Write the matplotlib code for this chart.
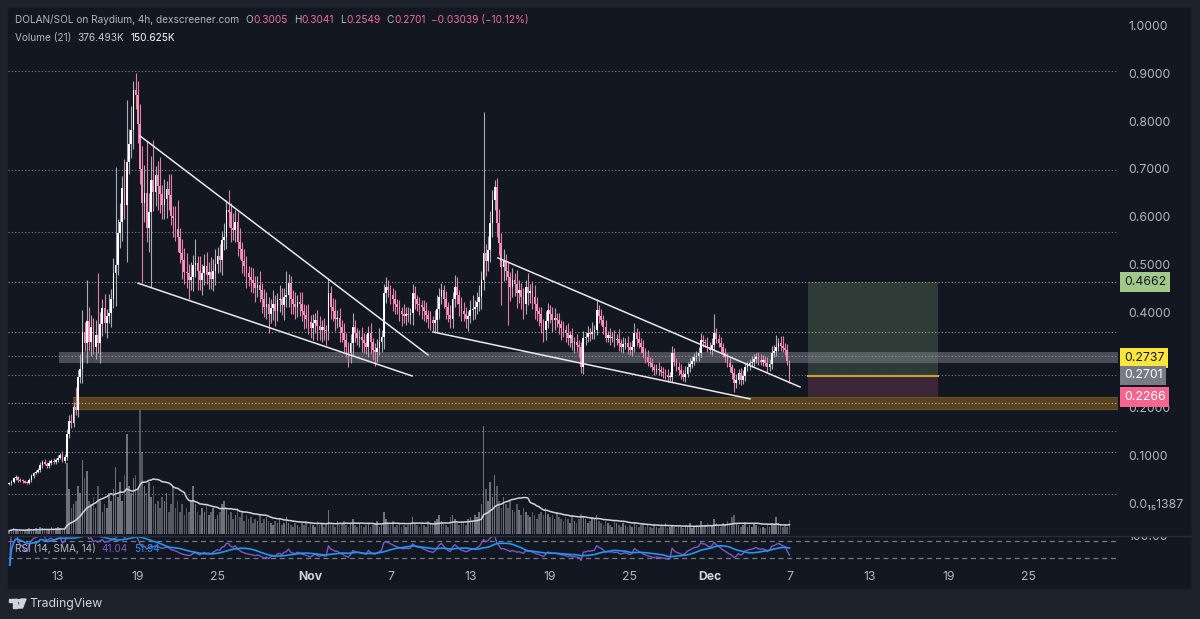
import numpy as np
import pandas as pd
import matplotlib
matplotlib.use('Agg')
import matplotlib.pyplot as plt
from matplotlib.patches import Rectangle, Polygon, Circle

plt.rcParams['font.family'] = ['Inter', 'DejaVu Sans']

# ---------------- data (4h candles, first candle Oct 9 08:00) ----------------
first_open = 0.044
close = [
    0.045, 0.048, 0.056, 0.058, 0.053, 0.051, 0.050, 0.047, 0.046, 0.052,
    0.060, 0.066, 0.069, 0.073, 0.083, 0.091, 0.086, 0.081, 0.088, 0.093,
    0.089, 0.095, 0.099, 0.104, 0.093, 0.101, 0.148, 0.176, 0.172, 0.206,
    0.199, 0.268, 0.285, 0.362, 0.338, 0.385, 0.342, 0.372, 0.331, 0.356,
    0.338, 0.378, 0.412, 0.380, 0.395, 0.402, 0.432, 0.486, 0.502, 0.568,
    0.592, 0.664, 0.628, 0.718, 0.756, 0.785, 0.868, 0.858, 0.798, 0.702,
    0.632, 0.652, 0.580, 0.612, 0.680, 0.655, 0.690, 0.668, 0.650, 0.628,
    0.641, 0.662, 0.648, 0.605, 0.600, 0.578, 0.560, 0.527, 0.512, 0.488,
    0.485, 0.470, 0.478, 0.502, 0.506, 0.490, 0.470, 0.485, 0.500, 0.482,
    0.488, 0.472, 0.490, 0.505, 0.520, 0.512, 0.554, 0.560, 0.618, 0.612,
    0.580, 0.575, 0.592, 0.550, 0.535, 0.510, 0.500, 0.485, 0.478, 0.470,
    0.464, 0.455, 0.460, 0.450, 0.432, 0.414, 0.420, 0.400, 0.412, 0.420,
    0.405, 0.428, 0.430, 0.418, 0.435, 0.440, 0.464, 0.430, 0.420, 0.414,
    0.425, 0.420, 0.405, 0.398, 0.390, 0.382, 0.370, 0.380, 0.387, 0.375,
    0.366, 0.372, 0.366, 0.365, 0.443, 0.414, 0.405, 0.390, 0.392, 0.372,
    0.360, 0.345, 0.330, 0.318, 0.338, 0.372, 0.360, 0.350, 0.352, 0.345,
    0.338, 0.330, 0.360, 0.340, 0.324, 0.320, 0.328, 0.340, 0.352, 0.443,
    0.456, 0.450, 0.440, 0.430, 0.420, 0.414, 0.405, 0.400, 0.396, 0.400,
    0.398, 0.402, 0.443, 0.430, 0.420, 0.418, 0.414, 0.405, 0.398, 0.390,
    0.386, 0.380, 0.387, 0.410, 0.435, 0.450, 0.432, 0.414, 0.398, 0.390,
    0.430, 0.456, 0.440, 0.420, 0.405, 0.400, 0.390, 0.396, 0.408, 0.410,
    0.414, 0.425, 0.435, 0.470, 0.527, 0.510, 0.533, 0.590, 0.638, 0.665,
    0.590, 0.548, 0.498, 0.510, 0.490, 0.477, 0.456, 0.470, 0.462, 0.443,
    0.450, 0.435, 0.420, 0.456, 0.443, 0.448, 0.435, 0.420, 0.405, 0.400,
    0.380, 0.366, 0.385, 0.408, 0.400, 0.387, 0.392, 0.387, 0.378, 0.370,
    0.366, 0.360, 0.350, 0.355, 0.339, 0.342, 0.335, 0.330, 0.289, 0.350,
    0.352, 0.360, 0.358, 0.362, 0.366, 0.408, 0.395, 0.387, 0.372, 0.350,
    0.355, 0.350, 0.352, 0.345, 0.348, 0.338, 0.330, 0.336, 0.339, 0.330,
    0.324, 0.330, 0.360, 0.348, 0.339, 0.330, 0.318, 0.310, 0.300, 0.297,
    0.288, 0.282, 0.285, 0.282, 0.278, 0.276, 0.272, 0.268, 0.268, 0.318,
    0.300, 0.289, 0.282, 0.275, 0.268, 0.275, 0.289, 0.295, 0.302, 0.310,
    0.312, 0.318, 0.345, 0.340, 0.339, 0.330, 0.324, 0.335, 0.360, 0.348,
    0.339, 0.330, 0.318, 0.310, 0.297, 0.288, 0.276, 0.255, 0.262, 0.276,
    0.262, 0.270, 0.289, 0.292, 0.297, 0.300, 0.305, 0.310, 0.303, 0.300,
    0.303, 0.298, 0.289, 0.295, 0.318, 0.322, 0.330, 0.339, 0.333, 0.328,
    0.324, 0.3005, 0.2701,
]
wick_up = [
    .003, .004, .003, .005, .002, .003, .004, .002, .003, .004,
    .004, .003, .005, .004, .006, .004, .005, .003, .006, .004,
    .005, .004, .006, .004, .008, .006, .010, .012, .015, .010,
    .040, .015, .030, .045, .020, .085, .030, .025, .020, .030,
    .130, .025, .020, .030, .015, .040, .020, .030, .205, .030,
    .040, .025, .060, .130, .030, .050, .020, .036, .030, .040,
    .050, .060, .110, .040, .050, .083, .020, .030, .060, .020,
    .040, .015, .030, .045, .020, .025, .060, .020, .030, .025,
    .040, .020, .030, .020, .050, .015, .030, .020, .025, .030,
    .020, .030, .025, .030, .020, .025, .020, .030, .020, .040,
    .020, .030, .025, .020, .030, .015, .025, .020, .015, .020,
    .025, .015, .020, .030, .015, .020, .025, .015, .020, .030,
    .020, .015, .030, .025, .020, .050, .020, .015, .020, .025,
    .015, .020, .025, .015, .020, .030, .015, .020, .015, .020,
    .020, .015, .020, .010, .030, .015, .020, .025, .015, .020,
    .015, .020, .015, .010, .020, .030, .015, .010, .015, .020,
    .015, .020, .015, .020, .010, .015, .020, .030, .015, .020,
    .020, .015, .010, .015, .020, .010, .015, .010, .020, .015,
    .015, .010, .020, .015, .010, .015, .010, .015, .020, .010,
    .015, .010, .020, .030, .020, .015, .010, .015, .010, .020,
    .015, .025, .020, .010, .015, .020, .015, .010, .020, .030,
    .015, .020, .025, .020, .295, .020, .030, .025, .020, .015,
    .020, .030, .020, .025, .015, .020, .010, .025, .015, .030,
    .020, .015, .020, .015, .030, .015, .020, .025, .015, .010,
    .015, .010, .020, .015, .010, .015, .020, .010, .015, .010,
    .015, .010, .020, .010, .015, .010, .015, .010, .010, .015,
    .010, .015, .010, .020, .010, .022, .010, .015, .010, .015,
    .010, .015, .010, .015, .010, .020, .010, .015, .010, .015,
    .010, .015, .020, .010, .015, .010, .015, .010, .015, .010,
    .010, .008, .010, .015, .008, .010, .008, .012, .010, .015,
    .010, .008, .010, .012, .008, .015, .010, .012, .010, .008,
    .010, .012, .015, .010, .008, .012, .010, .015, .040, .010,
    .010, .012, .008, .010, .008, .010, .008, .010, .012, .008,
    .010, .012, .008, .010, .008, .012, .010, .008, .010, .012,
    .010, .008, .012, .010, .015, .012, .025, .010, .015, .020,
    .010, .012, .0036,
]
wick_dn = [
    .002, .003, .002, .003, .004, .002, .003, .002, .003, .002,
    .003, .004, .002, .003, .004, .005, .003, .004, .003, .004,
    .004, .003, .005, .003, .004, .005, .006, .008, .010, .008,
    .010, .015, .012, .030, .015, .040, .020, .030, .015, .025,
    .020, .040, .025, .020, .030, .015, .030, .020, .070, .020,
    .030, .040, .030, .120, .025, .030, .040, .030, .040, .030,
    .168, .040, .030, .050, .156, .040, .030, .050, .040, .030,
    .030, .040, .030, .020, .040, .025, .030, .020, .040, .025,
    .030, .040, .020, .030, .025, .040, .020, .030, .025, .020,
    .030, .020, .025, .030, .020, .025, .030, .020, .025, .030,
    .030, .020, .025, .030, .020, .025, .020, .030, .020, .025,
    .020, .030, .020, .025, .030, .020, .025, .040, .020, .025,
    .030, .020, .025, .020, .030, .020, .025, .030, .020, .025,
    .020, .025, .020, .030, .020, .025, .020, .025, .020, .030,
    .020, .025, .020, .030, .020, .025, .020, .025, .020, .030,
    .020, .025, .020, .030, .020, .025, .020, .015, .020, .025,
    .020, .015, .020, .025, .020, .030, .020, .015, .020, .025,
    .020, .015, .020, .025, .020, .015, .020, .025, .015, .020,
    .015, .020, .025, .020, .015, .020, .025, .020, .015, .020,
    .020, .015, .020, .025, .020, .015, .020, .025, .015, .020,
    .020, .015, .020, .025, .020, .015, .020, .025, .015, .020,
    .020, .015, .020, .025, .020, .030, .020, .025, .030, .020,
    .030, .025, .080, .030, .020, .100, .030, .020, .025, .030,
    .020, .025, .030, .020, .025, .020, .025, .030, .020, .025,
    .020, .025, .020, .015, .020, .025, .020, .015, .020, .025,
    .015, .020, .015, .020, .015, .020, .015, .020, .013, .015,
    .015, .010, .015, .010, .015, .010, .015, .010, .015, .010,
    .010, .015, .010, .015, .010, .015, .010, .012, .010, .015,
    .010, .012, .010, .015, .010, .012, .010, .012, .010, .008,
    .008, .010, .008, .010, .008, .010, .008, .010, .008, .010,
    .010, .008, .010, .012, .008, .010, .008, .010, .008, .010,
    .008, .010, .008, .010, .008, .010, .008, .010, .012, .010,
    .008, .010, .008, .010, .008, .010, .012, .018, .010, .008,
    .010, .008, .010, .008, .010, .008, .010, .008, .010, .008,
    .010, .008, .010, .008, .010, .008, .010, .008, .010, .008,
    .010, .008, .0152,
]
volume_k = [
    90, 120, 150, 100, 80, 110, 90, 70, 130, 160,
    140, 110, 170, 90, 200, 150, 120, 100, 130, 180,
    110, 150, 200, 170, 120, 140, 1900, 1200, 700, 800,
    900, 1300, 1100, 2000, 1500, 1700, 900, 800, 1000, 700,
    1300, 900, 600, 800, 700, 1100, 900, 1200, 1800, 1000,
    1400, 900, 1600, 2700, 1300, 1100, 1500, 1600, 1200, 3500,
    2200, 1300, 1100, 1400, 1000, 1300, 800, 900, 700, 1000,
    900, 1100, 600, 800, 1300, 700, 900, 600, 800, 500,
    700, 600, 900, 1300, 800, 600, 500, 700, 600, 800,
    500, 600, 700, 400, 500, 600, 800, 900, 700, 500,
    600, 400, 500, 700, 450, 600, 350, 500, 400, 450,
    300, 400, 350, 500, 300, 400, 450, 350, 300, 250,
    350, 300, 400, 250, 300, 450, 300, 250, 200, 300,
    250, 200, 300, 250, 350, 200, 300, 250, 200, 350,
    250, 300, 200, 250, 650, 300, 250, 200, 350, 250,
    300, 350, 250, 200, 300, 400, 250, 200, 300, 250,
    200, 250, 300, 200, 250, 300, 350, 200, 250, 600,
    400, 300, 250, 350, 200, 250, 300, 200, 250, 200,
    250, 300, 450, 300, 250, 200, 300, 250, 200, 350,
    300, 250, 350, 400, 500, 350, 300, 250, 200, 450,
    500, 400, 300, 250, 350, 300, 250, 400, 450, 350,
    500, 450, 600, 800, 2900, 1200, 900, 1400, 1000, 1600,
    1300, 900, 700, 1000, 800, 700, 900, 650, 600, 800,
    650, 500, 700, 600, 500, 450, 600, 500, 400, 550,
    600, 500, 700, 550, 450, 500, 400, 600, 450, 400,
    350, 450, 400, 300, 500, 350, 300, 400, 550, 450,
    400, 300, 350, 450, 400, 500, 350, 300, 250, 350,
    300, 250, 200, 350, 300, 250, 200, 300, 250, 200,
    250, 200, 300, 250, 200, 250, 300, 200, 250, 200,
    150, 250, 200, 150, 250, 200, 300, 150, 200, 250,
    200, 150, 250, 200, 150, 250, 200, 300, 150, 200,
    250, 200, 350, 200, 250, 300, 200, 250, 400, 300,
    250, 200, 300, 250, 350, 300, 450, 500, 300, 250,
    200, 250, 300, 200, 250, 200, 300, 250, 200, 150,
    200, 150, 250, 200, 300, 250, 450, 300, 250, 200,
    250, 200, 376.493,
]

price_ticks = [1.0, 0.9, 0.8, 0.7, 0.6, 0.5, 0.4, 0.2, 0.1, 0.0]
price_tick_labels = ['1.0000', '0.9000', '0.8000', '0.7000', '0.6000', '0.5000',
                     '0.4000', '0.2000', '0.1000', '0.0\u2081\u20851387']
date_ticks = [0, 6, 12, 19, 25, 31, 37, 43, 49, 55, 61, 67, 73]   # days after Oct 13
date_labels = ['13', '19', '25', 'Nov', '7', '13', '19', '25', 'Dec', '7', '13', '19', '25']
level_lines = [0.908, 0.701, 0.571, 0.466, 0.362, 0.311, 0.272, 0.213, 0.155, 0.111, 0.023]
level_colors = ['#8b8f9a', '#8b8f9a', '#8b8f9a', '#9fbf7f', '#9fbf7f', '#9a9eaa', '#8b8f9a',
                '#d8c9a4', '#8b8f9a', '#9fbf7f', '#8b8f9a']
grey_zone = (0.297, 0.320)
gold_zone = (0.2002, 0.2253)
entry, target, stop = 0.2701, 0.4662, 0.2266
position_days = (56.4, 66.2)
trendlines = [((6.17, 0.772), (27.82, 0.314)),
              ((6.02, 0.464), (26.62, 0.270)),
              ((33.08, 0.517), (55.79, 0.247)),
              ((28.20, 0.362), (52.03, 0.222))]

# ---------------- derived series ----------------
n = len(close)
t = -3.6667 + np.arange(n) / 6.0
c = np.array(close)
o = np.concatenate([[first_open], c[:-1]])
hi = np.maximum(o, c) + np.array(wick_up)
lo = np.minimum(o, c) - np.array(wick_dn)
up = c >= o
vol = np.array(volume_k)
vol_ma = pd.Series(vol).rolling(21, min_periods=1).mean().values
delta = pd.Series(c).diff().fillna(0)
gain = delta.clip(lower=0).ewm(alpha=1/14, adjust=False).mean()
loss = (-delta.clip(upper=0)).ewm(alpha=1/14, adjust=False).mean()
rsi = (100 - 100 / (1 + gain / loss.replace(0, 1e-9))).values
rsi_sma = pd.Series(rsi).rolling(14, min_periods=1).mean().values

# ---------------- figure ----------------
W, H = 1200, 619
fig = plt.figure(figsize=(12, 6.19), dpi=100)
fig.patch.set_facecolor('#1e222d')
BG = '#131722'
fig.add_artist(Rectangle((8 / W, 1 - 588 / H), (1190 - 8) / W, (588 - 8) / H,
                         transform=fig.transFigure, color=BG, zorder=0))


def rect(x0, y0, x1, y1):
    return [x0 / W, 1 - y1 / H, (x1 - x0) / W, (y1 - y0) / H]


def px_to_t(x):
    return (x - 58) / 13.3


XL = (px_to_t(8), px_to_t(1118))

ax_vol = fig.add_axes(rect(8, 8, 1118, 535))
ax = fig.add_axes(rect(8, 8, 1118, 535))
ax_rsi = fig.add_axes(rect(8, 536, 1118, 566))
for a in (ax_vol, ax, ax_rsi):
    a.set_facecolor('none')
    a.set_xlim(*XL)
    for s in a.spines.values():
        s.set_visible(False)
    a.set_xticks([])
    a.set_yticks([])

ax.set_ylim((505 - 535) / 478, (505 - 8) / 478)
ax_vol.set_ylim(-27, 526 * 26.9)
ax_rsi.set_ylim(30 - 8 / 0.425, 70 + 5 / 0.425)

# volume
vcol = np.where(up, '#6f727d', '#555862')
ax_vol.bar(t, vol, width=0.12, color=vcol, linewidth=0, zorder=1)
ax_vol.plot(t, vol_ma, color='#d1d4dc', lw=1.1, zorder=2)

# level lines and zones
ax.fill_between([px_to_t(59), XL[1]], grey_zone[0], grey_zone[1], color='#787b86',
                alpha=0.55, lw=0, zorder=2)
ax.fill_between([px_to_t(73), XL[1]], gold_zone[0], gold_zone[1], color='#584321',
                lw=0, zorder=2)
ax.plot([px_to_t(73), XL[1]], [gold_zone[1], gold_zone[1]], color='#6a5227', lw=0.8, zorder=2)
ax.plot([px_to_t(73), XL[1]], [gold_zone[0], gold_zone[0]], color='#6a5227', lw=0.8, zorder=2)
for lv, lc in zip(level_lines, level_colors):
    ax.axhline(lv, color=lc, lw=0.8, ls=(0, (1, 2)), alpha=0.85, zorder=2.5)

# position tool
ax.fill_between(position_days, entry, target, color='#2e3b37', lw=0, zorder=1.5)
ax.fill_between(position_days, stop, entry, color='#3d2538', lw=0, zorder=1.5)
ax.plot(position_days, [entry, entry], color='#c9a330', lw=1.5, zorder=3)

# candles
col = np.where(up, '#ffffff', '#f391b9')
wcol = np.where(up, '#a9acb5', '#e07fa8')
ax.vlines(t, lo, hi, colors=wcol, lw=0.8, zorder=4)
body_h = np.maximum(np.abs(c - o), 0.0015)
ax.bar(t, body_h, bottom=np.minimum(o, c), width=0.13, color=col, linewidth=0, zorder=5)

# trendlines
for (x0, y0), (x1, y1) in trendlines:
    ax.plot([x0, x1], [y0, y1], color='#e8e9ec', lw=1.1, zorder=6)

# RSI
ax_rsi.axhline(70, color='#787b86', lw=0.9, ls=(0, (4, 3)))
ax_rsi.axhline(30, color='#787b86', lw=0.9, ls=(0, (4, 3)))
ax_rsi.plot(t, rsi, color='#7e57c2', lw=1.0, zorder=3)
ax_rsi.plot(t, rsi_sma, color='#2196f3', lw=1.2, zorder=4)

# pane separator
fig.add_artist(plt.Line2D([8 / W, 1190 / W], [1 - 535.5 / H] * 2, color='#2a2e39', lw=1))

# ---------------- texts ----------------
TXT = '#b2b5be'
renderer = fig.canvas.get_renderer()


def ftxt(x, y, s, **kw):
    kw.setdefault('va', 'center')
    kw.setdefault('ha', 'left')
    return fig.text(x / W, 1 - y / H, s, **kw)


def chain(x0, y, pieces, size):
    x = x0
    for s, colr, gap in pieces:
        x += gap
        tx = ftxt(x, y, s, color=colr, fontsize=size)
        bb = tx.get_window_extent(renderer)
        x = bb.x1


def p2y(p):
    return 505 - 478 * p


for p, lab in zip(price_ticks, price_tick_labels):
    ftxt(1128, p2y(p), lab, color=TXT, fontsize=8.8)


def pill(y, s, fc, tc):
    ftxt(1124, y, s, color=tc, fontsize=8.8,
         bbox=dict(boxstyle='square,pad=0.3', fc=fc, ec='none'), zorder=10)


pill(282, '0.4662', '#a3c98a', '#131722')
pill(358, '0.2737', '#fbe73b', '#131722')
pill(375.5, '0.2701', '#787b86', '#ffffff')
pill(397, '0.2266', '#f2668f', '#ffffff')

ax_lab = fig.add_axes(rect(1118, 536, 1190, 566))
ax_lab.set_axis_off()
ax_lab.set_xlim(0, 72)
ax_lab.set_ylim(30, 0)
ax_lab.text(10, 1.5, '100.00', color=TXT, fontsize=8.8, va='center', clip_on=True)

for d, lab in zip(date_ticks, date_labels):
    bold = lab in ('Nov', 'Dec')
    ftxt(58 + 13.3 * d, 577, lab, color='#d1d4dc' if bold else TXT, fontsize=8.8,
         ha='center', fontweight='bold' if bold else 'normal')

# header: fit the title to its width in the reference
title = 'DOLAN/SOL on Raydium, 4h, dexscreener.com'
probe = ftxt(15, 20, title, color=TXT, fontsize=8)
wpx = probe.get_window_extent(renderer).width
hsize = 8 * 225 / wpx
probe.remove()
PINK = '#f06f9a'
chain(15, 20, [(title, TXT, 0), ('O', TXT, 6), ('0.3005', PINK, 0.5),
               ('H', TXT, 6), ('0.3041', PINK, 0.5), ('L', TXT, 6), ('0.2549', PINK, 0.5),
               ('C', TXT, 6), ('0.2701', PINK, 0.5),
               ('\u22120.03039 (\u221210.12%)', PINK, 5)], hsize)
chain(15, 38, [('Volume (21)', TXT, 0), ('376.493K', '#c8cad1', 6),
               ('150.625K', '#ffffff', 6)], hsize)
chain(15, 549, [('RSI (14, SMA, 14)', TXT, 0), ('41.04', '#7e57c2', 6),
                ('51.94', '#2196f3', 6)], hsize)

# TradingView logo
LC = '#d1d4dc'
fig.add_artist(Rectangle((9 / W, 1 - 602 / H), 8 / W, 3 / H, transform=fig.transFigure, color=LC))
fig.add_artist(Rectangle((13 / W, 1 - 608 / H), 4 / W, 9 / H, transform=fig.transFigure, color=LC))
fig.add_artist(Circle((19.5 / W, 1 - 600.5 / H), 1.6 / W, transform=fig.transFigure, color=LC))
fig.add_artist(Polygon([(21 / W, 1 - 599 / H), (26 / W, 1 - 599 / H), (22.5 / W, 1 - 608 / H),
                        (18 / W, 1 - 608 / H)], closed=True, transform=fig.transFigure, color=LC))
ftxt(29, 604, 'TradingView', color=LC, fontsize=8.8)

fig.savefig('out.png', dpi=100, facecolor=fig.get_facecolor())
